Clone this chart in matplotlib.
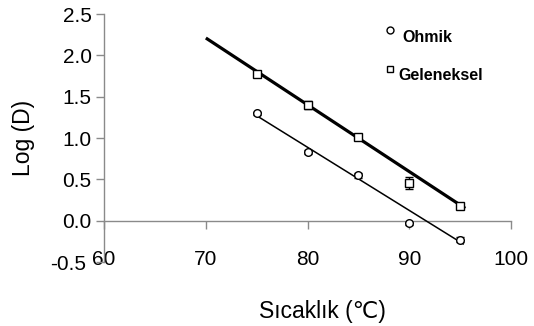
import matplotlib
matplotlib.use("Agg")
import matplotlib.pyplot as plt
import matplotlib.transforms as mtransforms

# measured points (Log D vs temperature)
temps = [75, 80, 85, 90, 95]
ohmik = [1.30, 0.83, 0.55, -0.03, -0.23]
ohmik_err = [0.02, 0.02, 0.03, 0.02, 0.03]
geleneksel = [1.775, 1.40, 1.01, 0.46, 0.18]
geleneksel_err = [0.03, 0.05, 0.03, 0.07, 0.03]

# trend line end points
ohmik_fit_x = [75, 95.3]
ohmik_fit_y = [1.27, -0.28]
gel_fit_x = [70, 95.5]
gel_fit_y = [2.21, 0.15]

xticks = [60, 70, 80, 90, 100]
yticks = [-0.5, 0.0, 0.5, 1.0, 1.5, 2.0, 2.5]

plt.rcParams["font.family"] = ["Liberation Sans", "DejaVu Sans"]

fig = plt.figure(figsize=(5.34, 3.26), dpi=100)
ax = fig.add_axes([0.195, 0.196, 0.762, 0.761])

axis_grey = "#8a8a8a"

ax.plot(gel_fit_x, gel_fit_y, color="black", lw=2.3, solid_capstyle="butt", zorder=3)
ax.plot(ohmik_fit_x, ohmik_fit_y, color="black", lw=1.1, zorder=3)

ax.errorbar(temps, geleneksel, yerr=geleneksel_err, fmt="s", mfc="white", mec="black",
            ms=5.5, mew=1.0, ecolor="black", elinewidth=1.0, capsize=3, zorder=4)
ax.errorbar(temps, ohmik, yerr=ohmik_err, fmt="o", mfc="white", mec="black",
            ms=5.5, mew=1.0, ecolor="black", elinewidth=1.0, capsize=3, zorder=4)

ax.set_xlim(60, 100)
ax.set_ylim(-0.5, 2.5)
ax.set_xticks(xticks)
ax.set_yticks(yticks)
ax.set_yticklabels([f"{v:.1f}" for v in yticks])

ax.spines["top"].set_visible(False)
ax.spines["right"].set_visible(False)
ax.spines["bottom"].set_position(("data", 0))
for s in ("left", "bottom"):
    ax.spines[s].set_color(axis_grey)
    ax.spines[s].set_linewidth(1.0)

ax.tick_params(axis="both", colors=axis_grey, labelcolor="black", labelsize=15, length=6, width=1.0)
ax.tick_params(axis="x", pad=15)
ax.tick_params(axis="y", pad=3)

# the bottom "-0.5" label sits a bit further left in the original
low_label = ax.get_yticklabels()[0]
low_label.set_transform(low_label.get_transform()
                        + mtransforms.ScaledTranslation(-6 / 100, 0, fig.dpi_scale_trans))

ax.set_ylabel("Log (D)", fontsize=16.5)
ax.yaxis.set_label_coords(-0.17, 0.5)
fig.text(0.603, 0.043, "Sıcaklık (\u2103)", fontsize=16.5, ha="center", va="center")

# legend drawn as markers + bold labels
ax.plot([88.1], [2.31], marker="o", ms=5, mfc="white", mec="black", mew=1.0,
        ls="none", clip_on=False)
ax.text(89.3, 2.22, "Ohmik", fontsize=11.5, fontweight="bold", va="center", ha="left")
ax.plot([88.1], [1.84], marker="s", ms=5, mfc="white", mec="black", mew=1.0,
        ls="none", clip_on=False)
ax.text(88.9, 1.76, "Geleneksel", fontsize=11.5, fontweight="bold", va="center", ha="left")

fig.savefig("out.png", dpi=100, facecolor="white")
